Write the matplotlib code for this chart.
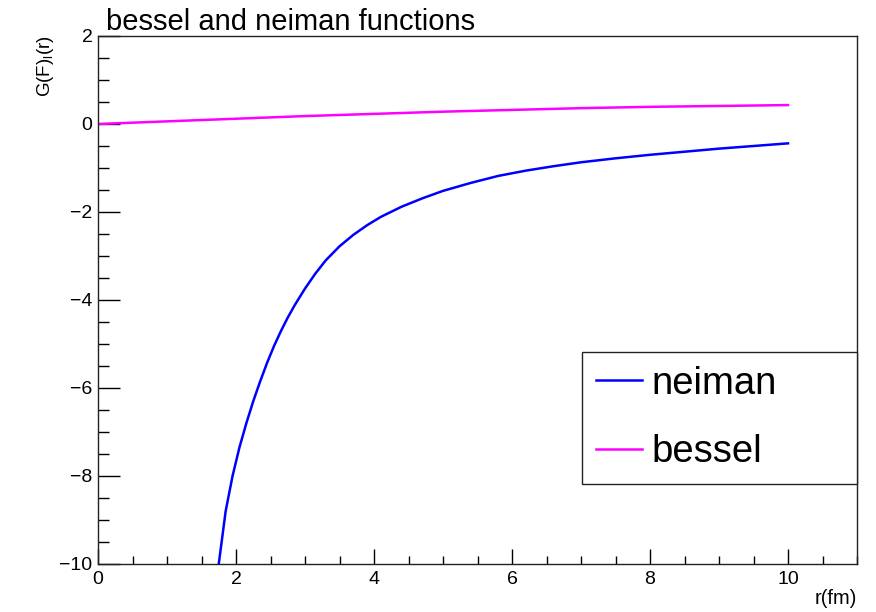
import numpy as np
import matplotlib
matplotlib.use('Agg')
import matplotlib.pyplot as plt
from matplotlib.ticker import MultipleLocator

plt.rcParams['font.family'] = ['Liberation Sans', 'DejaVu Sans']
plt.rcParams['mathtext.fontset'] = 'custom'
plt.rcParams['mathtext.rm'] = 'Liberation Sans'

# Values
neiman_r = [1.75, 1.85, 1.95, 2.05, 2.15, 2.25, 2.35, 2.45, 2.55, 2.65, 2.75, 2.85, 3.0, 3.15,
            3.3, 3.5, 3.7, 3.9, 4.1, 4.4, 4.7, 5.0, 5.4, 5.8, 6.2, 6.6, 7.0, 7.5, 8.0, 8.5,
            9.0, 9.5, 10.0]
neiman_g = [-10.0, -8.8, -8.0, -7.35, -6.8, -6.3, -5.85, -5.43, -5.05, -4.71, -4.40, -4.12, -3.74,
            -3.40, -3.10, -2.78, -2.52, -2.30, -2.11, -1.88, -1.69, -1.52, -1.34, -1.18, -1.06,
            -0.96, -0.87, -0.78, -0.70, -0.63, -0.56, -0.50, -0.44]

bessel_r = [0.0, 1.0, 2.0, 3.0, 4.0, 5.0, 6.0, 7.0, 8.0, 9.0, 10.0]
bessel_g = [0.0, 0.06, 0.12, 0.18, 0.23, 0.28, 0.32, 0.36, 0.39, 0.41, 0.43]

W, H = 876, 612
fig = plt.figure(figsize=(W / 100, H / 100), dpi=100)
ax = fig.add_axes([98 / W, 1 - 564 / H, (857 - 98) / W, (564 - 36) / H])

ax.plot(neiman_r, neiman_g, color='#0000ff', lw=1.8, label='neiman', solid_joinstyle='round')
ax.plot(bessel_r, bessel_g, color='#ff00ff', lw=1.8, label='bessel', solid_joinstyle='round')

ax.set_xlim(0, 11)
ax.set_ylim(-10, 2)

# ROOT-style axes: ticks inside, only left and bottom
ax.xaxis.set_major_locator(MultipleLocator(2))
ax.xaxis.set_minor_locator(MultipleLocator(0.5))
ax.yaxis.set_major_locator(MultipleLocator(2))
ax.yaxis.set_minor_locator(MultipleLocator(0.5))
ax.tick_params(axis='x', which='major', direction='in', length=11, width=1, labelsize=14, pad=5)
ax.tick_params(axis='x', which='minor', direction='in', length=5.6, width=1)
ax.tick_params(axis='y', which='major', direction='in', length=16, width=1, labelsize=14, pad=4)
ax.tick_params(axis='y', which='minor', direction='in', length=8, width=1)
for s in ax.spines.values():
    s.set_linewidth(1.0)
    s.set_color('#222222')

leg = ax.legend(loc='center', bbox_to_anchor=(582 / W, 1 - 484 / H, 275 / W, 132 / H),
                bbox_transform=fig.transFigure, mode='expand', borderaxespad=0,
                fontsize=27.5, fancybox=False, framealpha=1, edgecolor='#222222',
                handlelength=1.2, handletextpad=0.25, borderpad=0.37, labelspacing=0.85)
leg.get_frame().set_linewidth(1.0)

fig.text(106 / W, 1 - 30 / H, 'bessel and neiman functions', fontsize=21, va='baseline', ha='left')
fig.text(45 / W, 1 - 35 / H, r'G(F)$_\mathregular{l}$(r)', fontsize=13.5, rotation=90,
         ha='center', va='top')
fig.text(857 / W, 1 - 604 / H, 'r(fm)', fontsize=14.5, ha='right', va='baseline')

fig.savefig('out.png', dpi=100)
